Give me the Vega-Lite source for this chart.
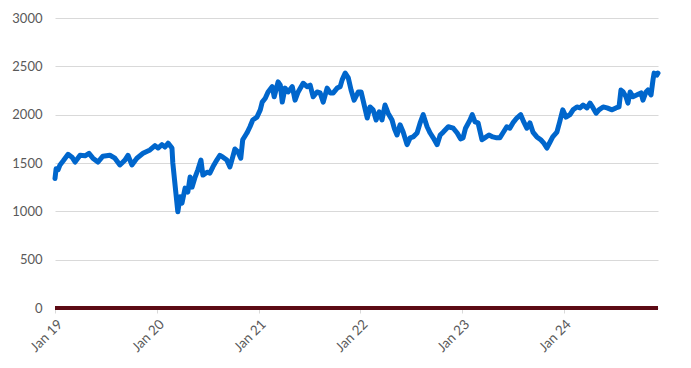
{
  "$schema": "https://vega.github.io/schema/vega-lite/v6.json",
  "autosize": {"type": "none"},
  "padding": {"left": 55, "top": 18, "right": 33, "bottom": 60},
  "width": 603,
  "height": 290,
  "background": "white",
  "config": {"view": {"stroke": null}, "font": "Lato"},
  "data": {"values": [
    {"date": "2019-01-01", "v": 1340},
    {"date": "2019-01-05", "v": 1440},
    {"date": "2019-01-12", "v": 1430},
    {"date": "2019-01-19", "v": 1480},
    {"date": "2019-01-30", "v": 1520},
    {"date": "2019-02-17", "v": 1590},
    {"date": "2019-03-03", "v": 1560},
    {"date": "2019-03-14", "v": 1510},
    {"date": "2019-04-01", "v": 1580},
    {"date": "2019-04-19", "v": 1575},
    {"date": "2019-05-03", "v": 1600},
    {"date": "2019-05-17", "v": 1550},
    {"date": "2019-06-04", "v": 1510},
    {"date": "2019-06-22", "v": 1570},
    {"date": "2019-07-17", "v": 1580},
    {"date": "2019-08-04", "v": 1550},
    {"date": "2019-08-22", "v": 1480},
    {"date": "2019-09-09", "v": 1530},
    {"date": "2019-09-20", "v": 1580},
    {"date": "2019-10-04", "v": 1480},
    {"date": "2019-10-22", "v": 1550},
    {"date": "2019-11-13", "v": 1600},
    {"date": "2019-12-08", "v": 1635},
    {"date": "2019-12-26", "v": 1680},
    {"date": "2020-01-06", "v": 1655},
    {"date": "2020-01-20", "v": 1690},
    {"date": "2020-01-31", "v": 1665},
    {"date": "2020-02-11", "v": 1705},
    {"date": "2020-02-25", "v": 1655},
    {"date": "2020-02-28", "v": 1500},
    {"date": "2020-03-10", "v": 1190},
    {"date": "2020-03-17", "v": 995},
    {"date": "2020-03-25", "v": 1150},
    {"date": "2020-04-01", "v": 1085},
    {"date": "2020-04-12", "v": 1240},
    {"date": "2020-04-22", "v": 1200},
    {"date": "2020-04-30", "v": 1355},
    {"date": "2020-05-07", "v": 1250},
    {"date": "2020-05-17", "v": 1345},
    {"date": "2020-05-28", "v": 1430},
    {"date": "2020-06-08", "v": 1530},
    {"date": "2020-06-15", "v": 1375},
    {"date": "2020-06-30", "v": 1405},
    {"date": "2020-07-10", "v": 1395},
    {"date": "2020-07-21", "v": 1460},
    {"date": "2020-08-04", "v": 1530},
    {"date": "2020-08-15", "v": 1580},
    {"date": "2020-08-26", "v": 1560},
    {"date": "2020-09-09", "v": 1530},
    {"date": "2020-09-20", "v": 1460},
    {"date": "2020-09-27", "v": 1530},
    {"date": "2020-10-08", "v": 1645},
    {"date": "2020-10-19", "v": 1615},
    {"date": "2020-10-29", "v": 1550},
    {"date": "2020-11-05", "v": 1740},
    {"date": "2020-11-20", "v": 1810},
    {"date": "2020-12-01", "v": 1875},
    {"date": "2020-12-11", "v": 1945},
    {"date": "2020-12-26", "v": 1975},
    {"date": "2021-01-07", "v": 2050},
    {"date": "2021-01-14", "v": 2130},
    {"date": "2021-01-25", "v": 2170},
    {"date": "2021-02-04", "v": 2235},
    {"date": "2021-02-19", "v": 2290},
    {"date": "2021-02-26", "v": 2185},
    {"date": "2021-03-12", "v": 2340},
    {"date": "2021-03-20", "v": 2305},
    {"date": "2021-03-27", "v": 2130},
    {"date": "2021-04-06", "v": 2275},
    {"date": "2021-04-17", "v": 2235},
    {"date": "2021-05-02", "v": 2290},
    {"date": "2021-05-12", "v": 2150},
    {"date": "2021-05-23", "v": 2235},
    {"date": "2021-06-10", "v": 2325},
    {"date": "2021-06-24", "v": 2290},
    {"date": "2021-07-05", "v": 2305},
    {"date": "2021-07-16", "v": 2185},
    {"date": "2021-07-30", "v": 2235},
    {"date": "2021-08-10", "v": 2225},
    {"date": "2021-08-21", "v": 2130},
    {"date": "2021-09-04", "v": 2275},
    {"date": "2021-09-15", "v": 2225},
    {"date": "2021-09-26", "v": 2225},
    {"date": "2021-10-10", "v": 2275},
    {"date": "2021-10-21", "v": 2290},
    {"date": "2021-10-28", "v": 2360},
    {"date": "2021-11-08", "v": 2430},
    {"date": "2021-11-19", "v": 2380},
    {"date": "2021-11-29", "v": 2255},
    {"date": "2021-12-10", "v": 2150},
    {"date": "2021-12-25", "v": 2235},
    {"date": "2022-01-04", "v": 2235},
    {"date": "2022-01-11", "v": 2150},
    {"date": "2022-01-26", "v": 1965},
    {"date": "2022-02-05", "v": 2080},
    {"date": "2022-02-16", "v": 2050},
    {"date": "2022-02-27", "v": 1945},
    {"date": "2022-03-10", "v": 2030},
    {"date": "2022-03-20", "v": 1945},
    {"date": "2022-03-31", "v": 2100},
    {"date": "2022-04-11", "v": 2015},
    {"date": "2022-04-25", "v": 1945},
    {"date": "2022-05-03", "v": 1860},
    {"date": "2022-05-13", "v": 1790},
    {"date": "2022-05-24", "v": 1895},
    {"date": "2022-06-04", "v": 1820},
    {"date": "2022-06-18", "v": 1690},
    {"date": "2022-06-29", "v": 1760},
    {"date": "2022-07-10", "v": 1770},
    {"date": "2022-07-24", "v": 1810},
    {"date": "2022-08-04", "v": 1915},
    {"date": "2022-08-15", "v": 2000},
    {"date": "2022-08-29", "v": 1875},
    {"date": "2022-09-09", "v": 1810},
    {"date": "2022-09-20", "v": 1760},
    {"date": "2022-10-04", "v": 1690},
    {"date": "2022-10-15", "v": 1790},
    {"date": "2022-10-26", "v": 1820},
    {"date": "2022-11-13", "v": 1875},
    {"date": "2022-12-01", "v": 1860},
    {"date": "2022-12-15", "v": 1810},
    {"date": "2022-12-27", "v": 1750},
    {"date": "2023-01-05", "v": 1760},
    {"date": "2023-01-14", "v": 1860},
    {"date": "2023-01-30", "v": 1945},
    {"date": "2023-02-07", "v": 2000},
    {"date": "2023-02-17", "v": 1925},
    {"date": "2023-02-28", "v": 1915},
    {"date": "2023-03-14", "v": 1740},
    {"date": "2023-03-24", "v": 1760},
    {"date": "2023-04-08", "v": 1790},
    {"date": "2023-04-22", "v": 1770},
    {"date": "2023-05-06", "v": 1760},
    {"date": "2023-05-17", "v": 1760},
    {"date": "2023-05-28", "v": 1810},
    {"date": "2023-06-11", "v": 1875},
    {"date": "2023-06-22", "v": 1860},
    {"date": "2023-07-03", "v": 1915},
    {"date": "2023-07-17", "v": 1965},
    {"date": "2023-07-31", "v": 2000},
    {"date": "2023-08-11", "v": 1925},
    {"date": "2023-08-22", "v": 1860},
    {"date": "2023-09-02", "v": 1915},
    {"date": "2023-09-13", "v": 1820},
    {"date": "2023-09-27", "v": 1770},
    {"date": "2023-10-11", "v": 1740},
    {"date": "2023-10-22", "v": 1705},
    {"date": "2023-11-02", "v": 1655},
    {"date": "2023-11-13", "v": 1715},
    {"date": "2023-11-23", "v": 1770},
    {"date": "2023-12-08", "v": 1820},
    {"date": "2023-12-18", "v": 1925},
    {"date": "2023-12-29", "v": 2050},
    {"date": "2024-01-10", "v": 1975},
    {"date": "2024-01-24", "v": 2000},
    {"date": "2024-02-04", "v": 2050},
    {"date": "2024-02-18", "v": 2080},
    {"date": "2024-02-29", "v": 2070},
    {"date": "2024-03-11", "v": 2100},
    {"date": "2024-03-25", "v": 2070},
    {"date": "2024-04-05", "v": 2120},
    {"date": "2024-04-16", "v": 2070},
    {"date": "2024-04-27", "v": 2015},
    {"date": "2024-05-07", "v": 2050},
    {"date": "2024-05-22", "v": 2080},
    {"date": "2024-06-05", "v": 2070},
    {"date": "2024-06-23", "v": 2050},
    {"date": "2024-07-07", "v": 2070},
    {"date": "2024-07-18", "v": 2080},
    {"date": "2024-07-25", "v": 2255},
    {"date": "2024-08-02", "v": 2235},
    {"date": "2024-08-12", "v": 2185},
    {"date": "2024-08-19", "v": 2120},
    {"date": "2024-08-27", "v": 2235},
    {"date": "2024-09-06", "v": 2185},
    {"date": "2024-09-21", "v": 2205},
    {"date": "2024-10-05", "v": 2225},
    {"date": "2024-10-12", "v": 2150},
    {"date": "2024-10-23", "v": 2235},
    {"date": "2024-10-30", "v": 2255},
    {"date": "2024-11-10", "v": 2205},
    {"date": "2024-11-17", "v": 2360},
    {"date": "2024-11-21", "v": 2430},
    {"date": "2024-12-01", "v": 2410},
    {"date": "2024-12-05", "v": 2430}
  ]},
  "layer": [
    {
      "mark": {"type": "line", "color": "#0066cc", "strokeWidth": 5, "strokeJoin": "round", "strokeCap": "round"},
      "encoding": {
        "x": {
          "field": "date", "type": "temporal",
          "scale": {"type": "utc", "domain": [{"year": 2019, "month": 1, "date": 1, "utc": true}, {"year": 2024, "month": 12, "date": 5, "utc": true}]},
          "axis": {
            "title": null,
            "values": [
              {"year": 2019, "month": 1, "date": 1, "utc": true},
              {"year": 2020, "month": 1, "date": 1, "utc": true},
              {"year": 2021, "month": 1, "date": 1, "utc": true},
              {"year": 2022, "month": 1, "date": 1, "utc": true},
              {"year": 2023, "month": 1, "date": 1, "utc": true},
              {"year": 2024, "month": 1, "date": 1, "utc": true}
            ],
            "labelExpr": "utcFormat(datum.value, '%b %y')",
            "labelAngle": -45, "labelAlign": "right", "labelBaseline": "top",
            "labelFontSize": 13.5, "labelColor": "#595959", "labelPadding": 4,
            "grid": false, "domain": false,
            "ticks": true, "tickSize": 5, "tickColor": "#d9d9d9",
            "labelFlush": false, "labelOverlap": false
          }
        },
        "y": {
          "field": "v", "type": "quantitative",
          "scale": {"domain": [0, 3000], "nice": false},
          "axis": {
            "title": null, "values": [0, 500, 1000, 1500, 2000, 2500, 3000],
            "labelExpr": "format(datum.value, 'd')",
            "labelFontSize": 13, "labelColor": "#595959", "labelPadding": 13,
            "grid": true, "gridColor": "#d9d9d9", "gridWidth": 1,
            "domain": false, "ticks": false
          }
        }
      }
    },
    {
      "mark": {"type": "rule", "color": "#5c0a14", "strokeWidth": 3},
      "encoding": {"y": {"datum": 0, "type": "quantitative"}}
    }
  ]
}
